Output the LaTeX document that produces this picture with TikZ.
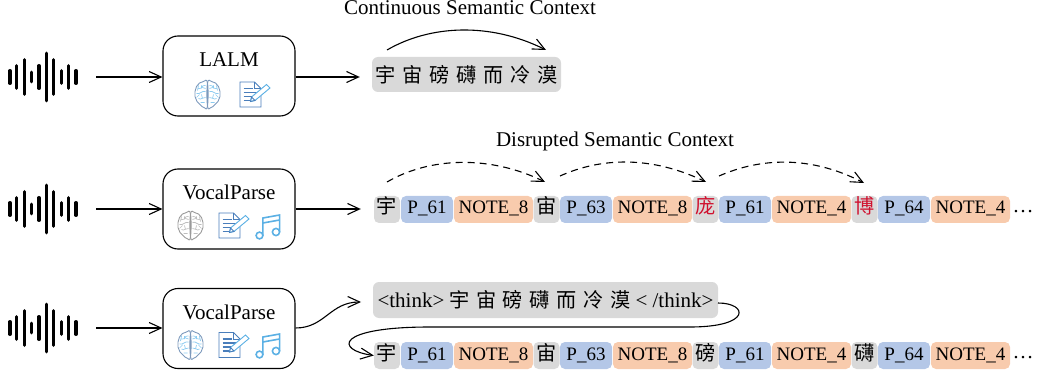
\documentclass[tikz,border=0pt]{standalone}
\usepackage{fontspec}
\setmainfont{Liberation Serif}
\newfontfamily\cjk[Scale=1.06,WordSpace=1.5]{Noto Sans CJK SC}
\usetikzlibrary{arrows.meta}
\definecolor{tokgray}{HTML}{D9D9D9}
\definecolor{tokblue}{HTML}{B4C7E7}
\definecolor{tokorange}{HTML}{F8CBAD}
\definecolor{redchar}{HTML}{D0122F}
\definecolor{iconblue}{HTML}{4A7EBB}
\definecolor{iconsky}{HTML}{5BB0E4}
\definecolor{brainline}{HTML}{7C99BC}
\definecolor{brainsky}{HTML}{8CCBF0}
\definecolor{braingray}{HTML}{9A9A9A}
\definecolor{brainpale}{HTML}{BDBDBD}
\tikzset{
  arr/.style={line width=1.1pt,-{Straight Barb[length=12pt,width=11pt,line width=1.1pt]}},
  model/.style={draw,line width=1.1pt,rounded corners=15pt,minimum width=132pt,minimum height=80pt},
  modelname/.style={font=\fontsize{21}{24}\selectfont},
  title/.style={font=\fontsize{21}{24}\selectfont},
  seq/.style={fill=tokgray,rounded corners=6pt,inner sep=0pt,font=\fontsize{19}{22}\selectfont},
  tok/.style={rounded corners=5pt,inner sep=0pt,minimum height=27pt,text height=13pt,text depth=4pt,font=\fontsize{19}{22}\selectfont},
  zi/.style={tok,fill=tokgray,minimum width=26pt},
  pit/.style={tok,fill=tokblue,minimum width=52pt},
  dur/.style={tok,fill=tokorange,minimum width=79pt},
  longdash/.style={dash pattern=on 7pt off 5pt},
  pics/wave/.style={code={
    \foreach \bx/\bh in {-33/8,-26.3/13,-18.7/19,-11.3/6.5,-4/13,3.7/25.5,10.7/19,18.3/8,25.7/13,33/8}
      \draw[line width=3.4pt,line cap=round] (\bx,-\bh+1.7) -- (\bx,\bh-1.7);
    \coordinate (-out) at (53,0);
  }},
  pics/brain/.style 2 args={code={
    \foreach \s in {1,-1}{
      \begin{scope}[xscale=\s]
      \draw[#2,line width=.7pt] (2,-9) .. controls (6,-10) and (5,-5) .. (9,-6) (2,-3) .. controls (6,-4) and (7,0) .. (11,-1)
        (2,3) .. controls (5,2) and (6,6) .. (9,4) (3,8) .. controls (5,7) and (6,9) .. (7,8) (6,-9) -- (6,-6) (6,0) -- (5,4)
        (9,-9) -- (10,-4) (8,0) -- (11,3) (2,-6) -- (5,-7);
      \draw[#1,line width=.9pt] plot[smooth cycle,tension=.8] coordinates {(0,-11.5)(4,-13)(8,-11.5)(11,-8)(12.5,-3)(12.5,2)(10.5,7)(7,10.5)(3.5,13)(0,11.5)};
      \end{scope}
    }
    \draw[#1,line width=.9pt] (0,-11.5) -- (0,11.5);
  }},
  pics/doc/.style={code={
    \draw[iconblue,line width=.9pt] (-10.5,-12.5) -- (4,-12.5) -- (10.5,-6) -- (10.5,12.5) -- (-10.5,12.5) -- cycle;
    \draw[iconblue,line width=.7pt] (4,-12.5) -- (4,-6) -- (10.5,-6);
    \draw[iconblue,line width=1.1pt] (-7,-6) -- (2,-6) (-7,-2) -- (6,-2) (-7,2) -- (3,2) (-7,6) -- (-1,6);
    \draw[iconsky,fill=white,line width=.9pt] (0,7) -- (1,2.5) -- (16,-10) -- (19.5,-6.5) -- (4.5,6) -- cycle;
    \draw[iconblue,line width=.8pt] (0,7) -- (1,2.5) -- (4.5,6) -- cycle;
  }},
  pics/note/.style={code={
    \draw[iconsky,line width=1.6pt] (-9,9) circle (3.4) (7.5,5.5) circle (3.6);
    \draw[iconsky,line width=1.6pt] (-5.6,9) -- (-5.6,-8.5) -- (11.1,-11.5) -- (11.1,5.5);
    \draw[iconsky,line width=1.6pt] (-5.6,-3.5) -- (11.1,-6.5);
  }}
}
\begin{document}
\begin{tikzpicture}[x=1pt,y=-1pt]
\useasboundingbox (0,0) rectangle (1037,377);

% first row
\pic (wa) at (43,77) {wave};
\node[model] (lalm) at (229,76) {};
\node[modelname] (lalmname) at (229,60) {LALM};
\pic at (207.5,94.5) {brain={brainline}{brainsky}};
\pic at (250.5,94.5) {doc};
\node[seq,minimum width=189pt,minimum height=35pt] (plain) at (466.5,74.5) {\cjk 宇 宙 磅 礴 而 冷 漠};
\node[title] (conttitle) at (470,8) {Continuous Semantic Context};
\draw[arr] (wa-out) -- (lalm.west |- wa-out);
\draw[arr,shorten >=12pt] (lalm.east |- wa-out) -- (plain.west |- wa-out);
\coordinate (c1) at (387,50);
\coordinate (c2) at (546,50);
\draw[arr] (c1) .. controls (430,25) and (490,22) .. (c2);

% second row
\pic (wb) at (43,209) {wave};
\node[model] (vpa) at (229,209) {};
\node[modelname] (vpaname) at (229,192) {VocalParse};
\pic at (190.5,225.5) {brain={braingray}{brainpale}};
\pic at (229.5,225.5) {doc};
\pic at (268.5,226.5) {note};
\node[zi] (az1) at (387,209.5) {\cjk 宇};
\node[pit] (ap1) at (427,209.5) {P\_61};
\node[dur] (an1) at (493.5,209.5) {NOTE\_8};
\node[zi] (az2) at (546.5,209.5) {\cjk 宙};
\node[pit] (ap2) at (586,209.5) {P\_63};
\node[dur] (an2) at (652.5,209.5) {NOTE\_8};
\node[zi] (az3) at (705.5,209.5) {\cjk\color{redchar}庞};
\node[pit] (ap3) at (745,209.5) {P\_61};
\node[dur] (an3) at (811.5,209.5) {NOTE\_4};
\node[zi] (az4) at (864.5,209.5) {\cjk\color{redchar}博};
\node[pit] (ap4) at (904,209.5) {P\_64};
\node[dur] (an4) at (970.5,209.5) {NOTE\_4};
\node[title] (adots) at (1023,212) {\ldots};
\node[title] (distitle) at (615,141) {Disrupted Semantic Context};
\draw[arr] (wb-out) -- (vpa.west |- wb-out);
\draw[arr,shorten >=13pt] (vpa.east |- wb-out) -- (az1.west |- wb-out);
\coordinate (d1) at (387,182);
\coordinate (d2) at (545,182);
\coordinate (d3) at (560,176);
\coordinate (d4) at (706,182);
\coordinate (d5) at (719,176);
\coordinate (d6) at (864,183);
\draw[arr,longdash] (d1) .. controls (430,157) and (490,155) .. (d2);
\draw[arr,longdash] (d3) .. controls (600,158) and (650,155) .. (d4);
\draw[arr,longdash] (d5) .. controls (760,158) and (810,155) .. (d6);

% third row
\pic (wc) at (43,328) {wave};
\node[model] (vpb) at (229,328.5) {};
\node[modelname] (vpbname) at (229,312) {VocalParse};
\pic at (190.5,345) {brain={brainline}{brainsky}};
\pic at (229.5,345) {doc};
\pic at (268.5,345.5) {note};
\node[seq,minimum width=345pt,minimum height=36pt] (think) at (545.5,300) {{\fontsize{21}{24}\selectfont<think>} {\cjk 宇 宙 磅 礴 而 冷 漠} {\fontsize{21}{24}\selectfont< /think>}};
\node[zi] (bz1) at (387,355.5) {\cjk 宇};
\node[pit] (bp1) at (427,355.5) {P\_61};
\node[dur] (bn1) at (493.5,355.5) {NOTE\_8};
\node[zi] (bz2) at (546.5,355.5) {\cjk 宙};
\node[pit] (bp2) at (586,355.5) {P\_63};
\node[dur] (bn2) at (652.5,355.5) {NOTE\_8};
\node[zi] (bz3) at (705.5,355.5) {\cjk 磅};
\node[pit] (bp3) at (745,355.5) {P\_61};
\node[dur] (bn3) at (811.5,355.5) {NOTE\_4};
\node[zi] (bz4) at (864.5,355.5) {\cjk 礴};
\node[pit] (bp4) at (904,355.5) {P\_64};
\node[dur] (bn4) at (970.5,355.5) {NOTE\_4};
\node[title] (bdots) at (1023,358) {\ldots};
\draw[arr] (wc-out) -- (vpb.west |- wc-out);
\coordinate (thinkin) at (361,302);
\draw[arr] (vpb.east |- wc-out) .. controls (325,328) and (330,302) .. (thinkin);
\coordinate (wrap) at (690,327);
\coordinate (thinkout) at (718,303);
\coordinate (wrapb) at (430,327);
\draw[arr] (thinkout) .. controls (748,303) and (752,327) .. (wrap) -- (wrapb) .. controls (335,327) and (335,350) .. (bz1.west);

\end{tikzpicture}
\end{document}
